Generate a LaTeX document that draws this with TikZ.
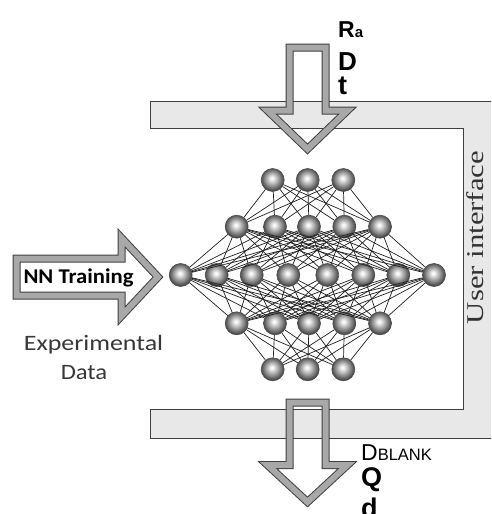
\documentclass[tikz,border=0pt]{standalone}
\usepackage{fontspec}
\usepackage{graphicx}
\setmainfont{Liberation Serif}
\newfontfamily\timesf{Liberation Serif}
\newfontfamily\arialf{Liberation Sans}
\newfontfamily\calf{Carlito}
\pgfdeclareradialshading{nnball}{\pgfpoint{-2bp}{4bp}}{color(0bp)=(white); color(3bp)=(white!92!gray); color(13bp)=(gray!70); color(21bp)=(gray!80!black); color(25bp)=(gray!55!black); color(50bp)=(gray!55!black)}
\tikzset{
  nn/.style={circle, minimum size=23pt, inner sep=0pt, draw=black!70, line width=0.6pt, shading=nnball},
  conn/.style={line width=0.7pt, draw=black!88},
  frame/.style={fill=gray!18, draw=black!75, line width=1pt},
  arrowout/.style={line width=8pt, draw=gray!50!black, line join=miter},
  arrowin/.style={line width=6pt, draw=gray!68, line join=miter},
  lbl/.style={inner sep=0pt, anchor=base west},
}
\begin{document}
\begin{tikzpicture}[x=1pt,y=-1pt]
\useasboundingbox (0,0) rectangle (491,514);
\clip (0,0) rectangle (491,514);
\fill[white] (0,0) rectangle (491,514);
% frame
\draw[frame] (150.5,101.5) -- (500,101.5) -- (500,438) -- (150.5,438) -- (150.5,409) -- (463.5,409) -- (463.5,128.5) -- (150.5,128.5) -- cycle;
% arrows
\foreach \s in {arrowout,arrowin}{
  \draw[\s] (289.5,47.5) -- (325.5,47.5) -- (325.5,110.5) -- (347.5,110.5) -- (307.5,149) -- (267.5,110.5) -- (289.5,110.5) -- cycle;
  \draw[\s] (289.5,402.5) -- (325.5,402.5) -- (325.5,465) -- (347.5,465) -- (307.5,502) -- (267.5,465) -- (289.5,465) -- cycle;
  \draw[\s] (16.5,258.5) -- (121.5,258.5) -- (121.5,238) -- (158,277) -- (121.5,316) -- (121.5,295.5) -- (16.5,295.5) -- cycle;
}
% network nodes
\foreach \i/\x in {1/272.7,2/307.7,3/343.3} \node[nn] (a\i) at (\x,180) {};
\foreach \i/\x in {1/236.7,2/275,3/309,4/344.3,5/380} \node[nn] (b\i) at (\x,226.7) {};
\foreach \i/\x in {1/180.7,2/216.7,3/251.7,4/288.3,5/327.3,6/363.3,7/398.3,8/434} \node[nn] (c\i) at (\x,275) {};
\foreach \i/\x in {1/236.7,2/275,3/309,4/344.3,5/380} \node[nn] (d\i) at (\x,323.3) {};
\foreach \i/\x in {1/272.7,2/307.7,3/343.3} \node[nn] (e\i) at (\x,369.3) {};
% connections
\foreach \i in {1,2,3}{\foreach \j in {1,...,5}{\draw[conn] (a\i) -- (b\j); \draw[conn] (e\i) -- (d\j);}}
\foreach \i in {1,...,5}{\foreach \j in {1,...,8}{\draw[conn] (b\i) -- (c\j); \draw[conn] (d\i) -- (c\j);}}
% texts
\node[lbl] (ra) at (338,37) {\arialf\bfseries\fontsize{23}{23}\selectfont R{\fontsize{15}{15}\selectfont a}};
\node[lbl] (dd) at (338,70) {\arialf\bfseries\fontsize{26}{26}\selectfont D};
\node[lbl] (tt) at (338,94) {\arialf\bfseries\fontsize{27}{27}\selectfont t};
\node[lbl] (dbl) at (361,460) {\arialf\fontsize{23}{23}\selectfont D{\fontsize{16.5}{16.5}\selectfont BLANK}};
\node[lbl] (qq) at (361,486) {\arialf\bfseries\fontsize{27}{27}\selectfont Q};
\node[lbl] (dl) at (361,517) {\arialf\bfseries\fontsize{27}{27}\selectfont d};
\node[lbl] (nnt) at (23.3,283) {\calf\bfseries\fontsize{21}{21}\selectfont\scalebox{1.08}[1]{NN Training}};
\node[inner sep=0pt, anchor=base, text=black!78] (exp) at (93.5,350) {\calf\fontsize{22}{22}\selectfont\scalebox{1.18}[1]{Experimental}};
\node[inner sep=0pt, anchor=base, text=black!78] (dat) at (84,379) {\calf\fontsize{22}{22}\selectfont\scalebox{1.12}[1]{Data}};
\node[inner sep=0pt, anchor=base, rotate=90, text=black!80] (ui) at (483,237.5) {\timesf\fontsize{24}{24}\selectfont\scalebox{1.28}[1]{User interface}};
\end{tikzpicture}
\end{document}
